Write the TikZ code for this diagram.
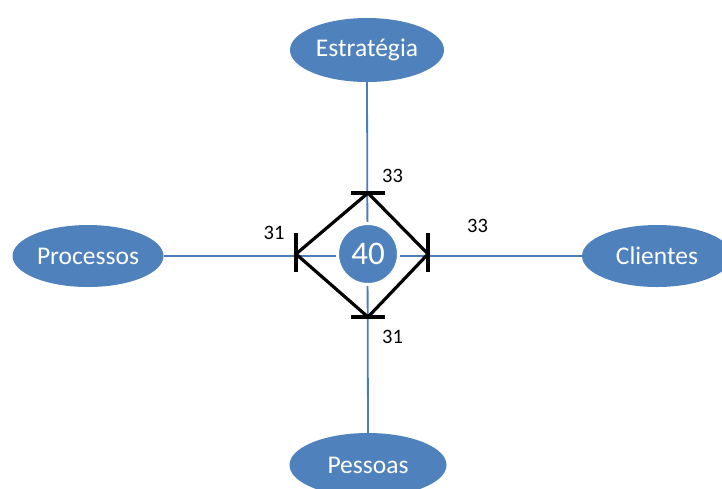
\documentclass[tikz,border=0pt]{standalone}
\usepackage{fontspec}
\setmainfont{Carlito}
\usetikzlibrary{shapes.geometric}
\definecolor{obl}{HTML}{4F81BD}
\definecolor{lbl}{HTML}{4A7EBB}
\begin{document}
\begin{tikzpicture}[x=1pt,y=-1pt,
  oval/.style={ellipse,fill=obl,draw=none,text=white,inner sep=0pt,
    minimum width=154pt,minimum height=64pt,font=\fontsize{25.5}{28}\selectfont},
  link/.style={draw=lbl,line width=1.8pt},
  diam/.style={draw=black,line width=3.2pt},
  tbar/.style={draw=black,line width=3.2pt},
  num/.style={font=\fontsize{20.5}{22}\selectfont,inner sep=0pt}]
\useasboundingbox (0,0) rectangle (722,488);
\node[oval] (est) at (367,50) {Estratégia};
\node[oval,minimum width=151pt,minimum height=62pt] (pro) at (88,256) {Processos};
\node[oval,minimum width=150pt,minimum height=62pt] (cli) at (657,256) {Clientes};
\node[oval,minimum width=157pt] (pes) at (368,465) {Pessoas};
\draw[link] (est.south) -- (pes.north);
\draw[link] (pro.east) -- (cli.west);
\coordinate (t) at (368,193);
\coordinate (l) at (296,254);
\coordinate (r) at (428,254);
\coordinate (b) at (368,317);
\draw[diam,line join=miter] (t) -- (r) -- (b) -- (l) -- cycle;
\draw[tbar] ([xshift=-17pt]t) -- ([xshift=17pt]t);
\draw[tbar] ([xshift=-17pt]b) -- ([xshift=17pt]b);
\draw[tbar] ([yshift=-18pt]l) -- ([yshift=21pt]l);
\draw[tbar] ([yshift=-18pt]r) -- ([yshift=21pt]r);
\node[circle,fill=obl,draw=white,line width=3pt,minimum size=61pt,inner sep=0pt,
  text=white,font=\fontsize{33}{35}\selectfont] (c) at (368,254) {40};
\node[num] (n1) at (392.5,175.5) {33};
\node[num] (n2) at (274,232.5) {31};
\node[num] (n3) at (477.5,225.5) {33};
\node[num] (n4) at (392.5,336.5) {31};
\end{tikzpicture}
\end{document}
